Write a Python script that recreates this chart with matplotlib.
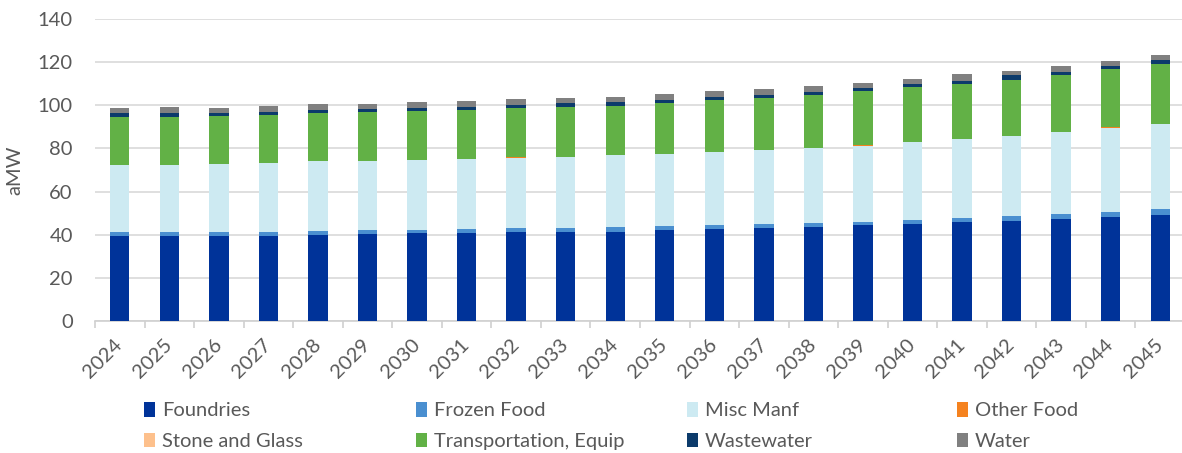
import matplotlib.pyplot as plt
import numpy as np
from matplotlib.patches import Patch

years = [str(y) for y in range(2024, 2046)]

foundries = [39.5, 39.5, 39.5, 39.5, 40.0, 40.2, 40.6, 40.6, 41.1, 41.4, 41.4,
             42.0, 42.5, 43.0, 43.4, 44.4, 45.0, 45.9, 46.5, 47.4, 48.4, 49.3]
frozen_food = [1.6, 1.6, 1.8, 1.9, 1.9, 1.9, 1.8, 1.9, 2.0, 1.8, 2.0,
               2.1, 2.0, 1.8, 2.0, 1.6, 1.8, 2.0, 2.0, 2.0, 2.3, 2.5]
misc_manf = [31.4, 31.4, 31.5, 32.0, 32.2, 32.0, 32.3, 32.4, 32.6, 32.8, 33.4,
             33.4, 34.0, 34.5, 35.0, 35.2, 36.3, 36.3, 37.1, 38.4, 38.6, 39.4]
other_food = [0.0, 0.0, 0.0, 0.0, 0.0, 0.0, 0.0, 0.0, 0.5, 0.0, 0.0,
              0.0, 0.0, 0.0, 0.0, 0.6, 0.0, 0.0, 0.0, 0.0, 0.5, 0.0]
stone_glass = [0.0] * 22
transport = [22.2, 22.2, 22.1, 22.2, 22.1, 22.7, 22.7, 22.7, 22.4, 23.4, 23.1,
             23.5, 24.1, 24.2, 24.6, 24.8, 25.2, 25.8, 26.3, 26.4, 27.0, 28.1]
wastewater = [1.5, 1.5, 1.5, 1.4, 1.4, 1.4, 1.4, 1.5, 1.5, 1.5, 1.4,
              1.5, 1.4, 1.3, 1.3, 1.2, 1.6, 1.4, 2.0, 1.4, 1.4, 1.5]
water = [2.4, 2.8, 2.3, 2.6, 2.9, 2.5, 2.6, 2.9, 2.8, 2.7, 2.5,
         2.8, 2.5, 2.6, 2.6, 2.6, 2.4, 3.0, 2.2, 2.6, 2.5, 2.5]

series = [
    ("Foundries", foundries, "#003399"),
    ("Frozen Food", frozen_food, "#4A8FD0"),
    ("Misc Manf", misc_manf, "#CDEAF2"),
    ("Other Food", other_food, "#F5821F"),
    ("Stone and Glass", stone_glass, "#FDC08C"),
    ("Transportation, Equip", transport, "#62B146"),
    ("Wastewater", wastewater, "#0C3B6B"),
    ("Water", water, "#808080"),
]

plt.rcParams['font.family'] = ['Lato', 'DejaVu Sans']
grey = "#595959"

fig = plt.figure(figsize=(11.82, 4.53), dpi=100)
ax = fig.add_axes([95 / 1182, 1 - 321 / 453, 1090 / 1182, 302 / 453])

x = np.arange(len(years))
bottom = np.zeros(len(years))
handles = {}
for name, vals, color in series:
    ax.bar(x, vals, 0.39, bottom=bottom, color=color, zorder=3)
    bottom += np.array(vals)
    handles[name] = Patch(facecolor=color)

ax.set_xlim(-0.5, len(years) - 0.5)
ax.set_ylim(0, 140)
ax.set_yticks(range(0, 141, 20))
ax.grid(axis='y', color="#D9D9D9", linewidth=1.2, zorder=0)
for s in ['top', 'right', 'left']:
    ax.spines[s].set_visible(False)
ax.spines['bottom'].set_color("#D0D0D0")
ax.spines['bottom'].set_linewidth(1.2)

ax.set_xticks(x)
ax.set_xticklabels(years, rotation=45, ha='right', va='center',
                   rotation_mode='anchor', fontsize=14.5, color=grey)
ax.tick_params(axis='x', length=0, pad=15)
ax.set_xticks(np.arange(-0.5, len(years)), minor=True)
ax.tick_params(axis='x', which='minor', length=5, color="#D0D0D0", width=1.2)
ax.tick_params(axis='y', length=0, pad=16, labelsize=14.5, labelcolor=grey)
ax.set_ylabel("aMW", fontsize=14.5, color=grey, labelpad=10)

# legend: four equal columns, two rows
cols = [("Foundries", "Stone and Glass"), ("Frozen Food", "Transportation, Equip"),
        ("Misc Manf", "Wastewater"), ("Other Food", "Water")]
col_x = [143, 415, 686, 956]
for (a, b), px in zip(cols, col_x):
    leg = fig.legend([handles[a], handles[b]], [a, b], loc='upper left',
                     bbox_to_anchor=(px / 1182 - 0.006, 1 - 394 / 453),
                     frameon=False, fontsize=14.5, handlelength=0.55,
                     handleheight=0.75, handletextpad=0.35, labelspacing=0.65,
                     borderaxespad=0)
    for t in leg.get_texts():
        t.set_color(grey)

fig.savefig("out.png", dpi=100)
